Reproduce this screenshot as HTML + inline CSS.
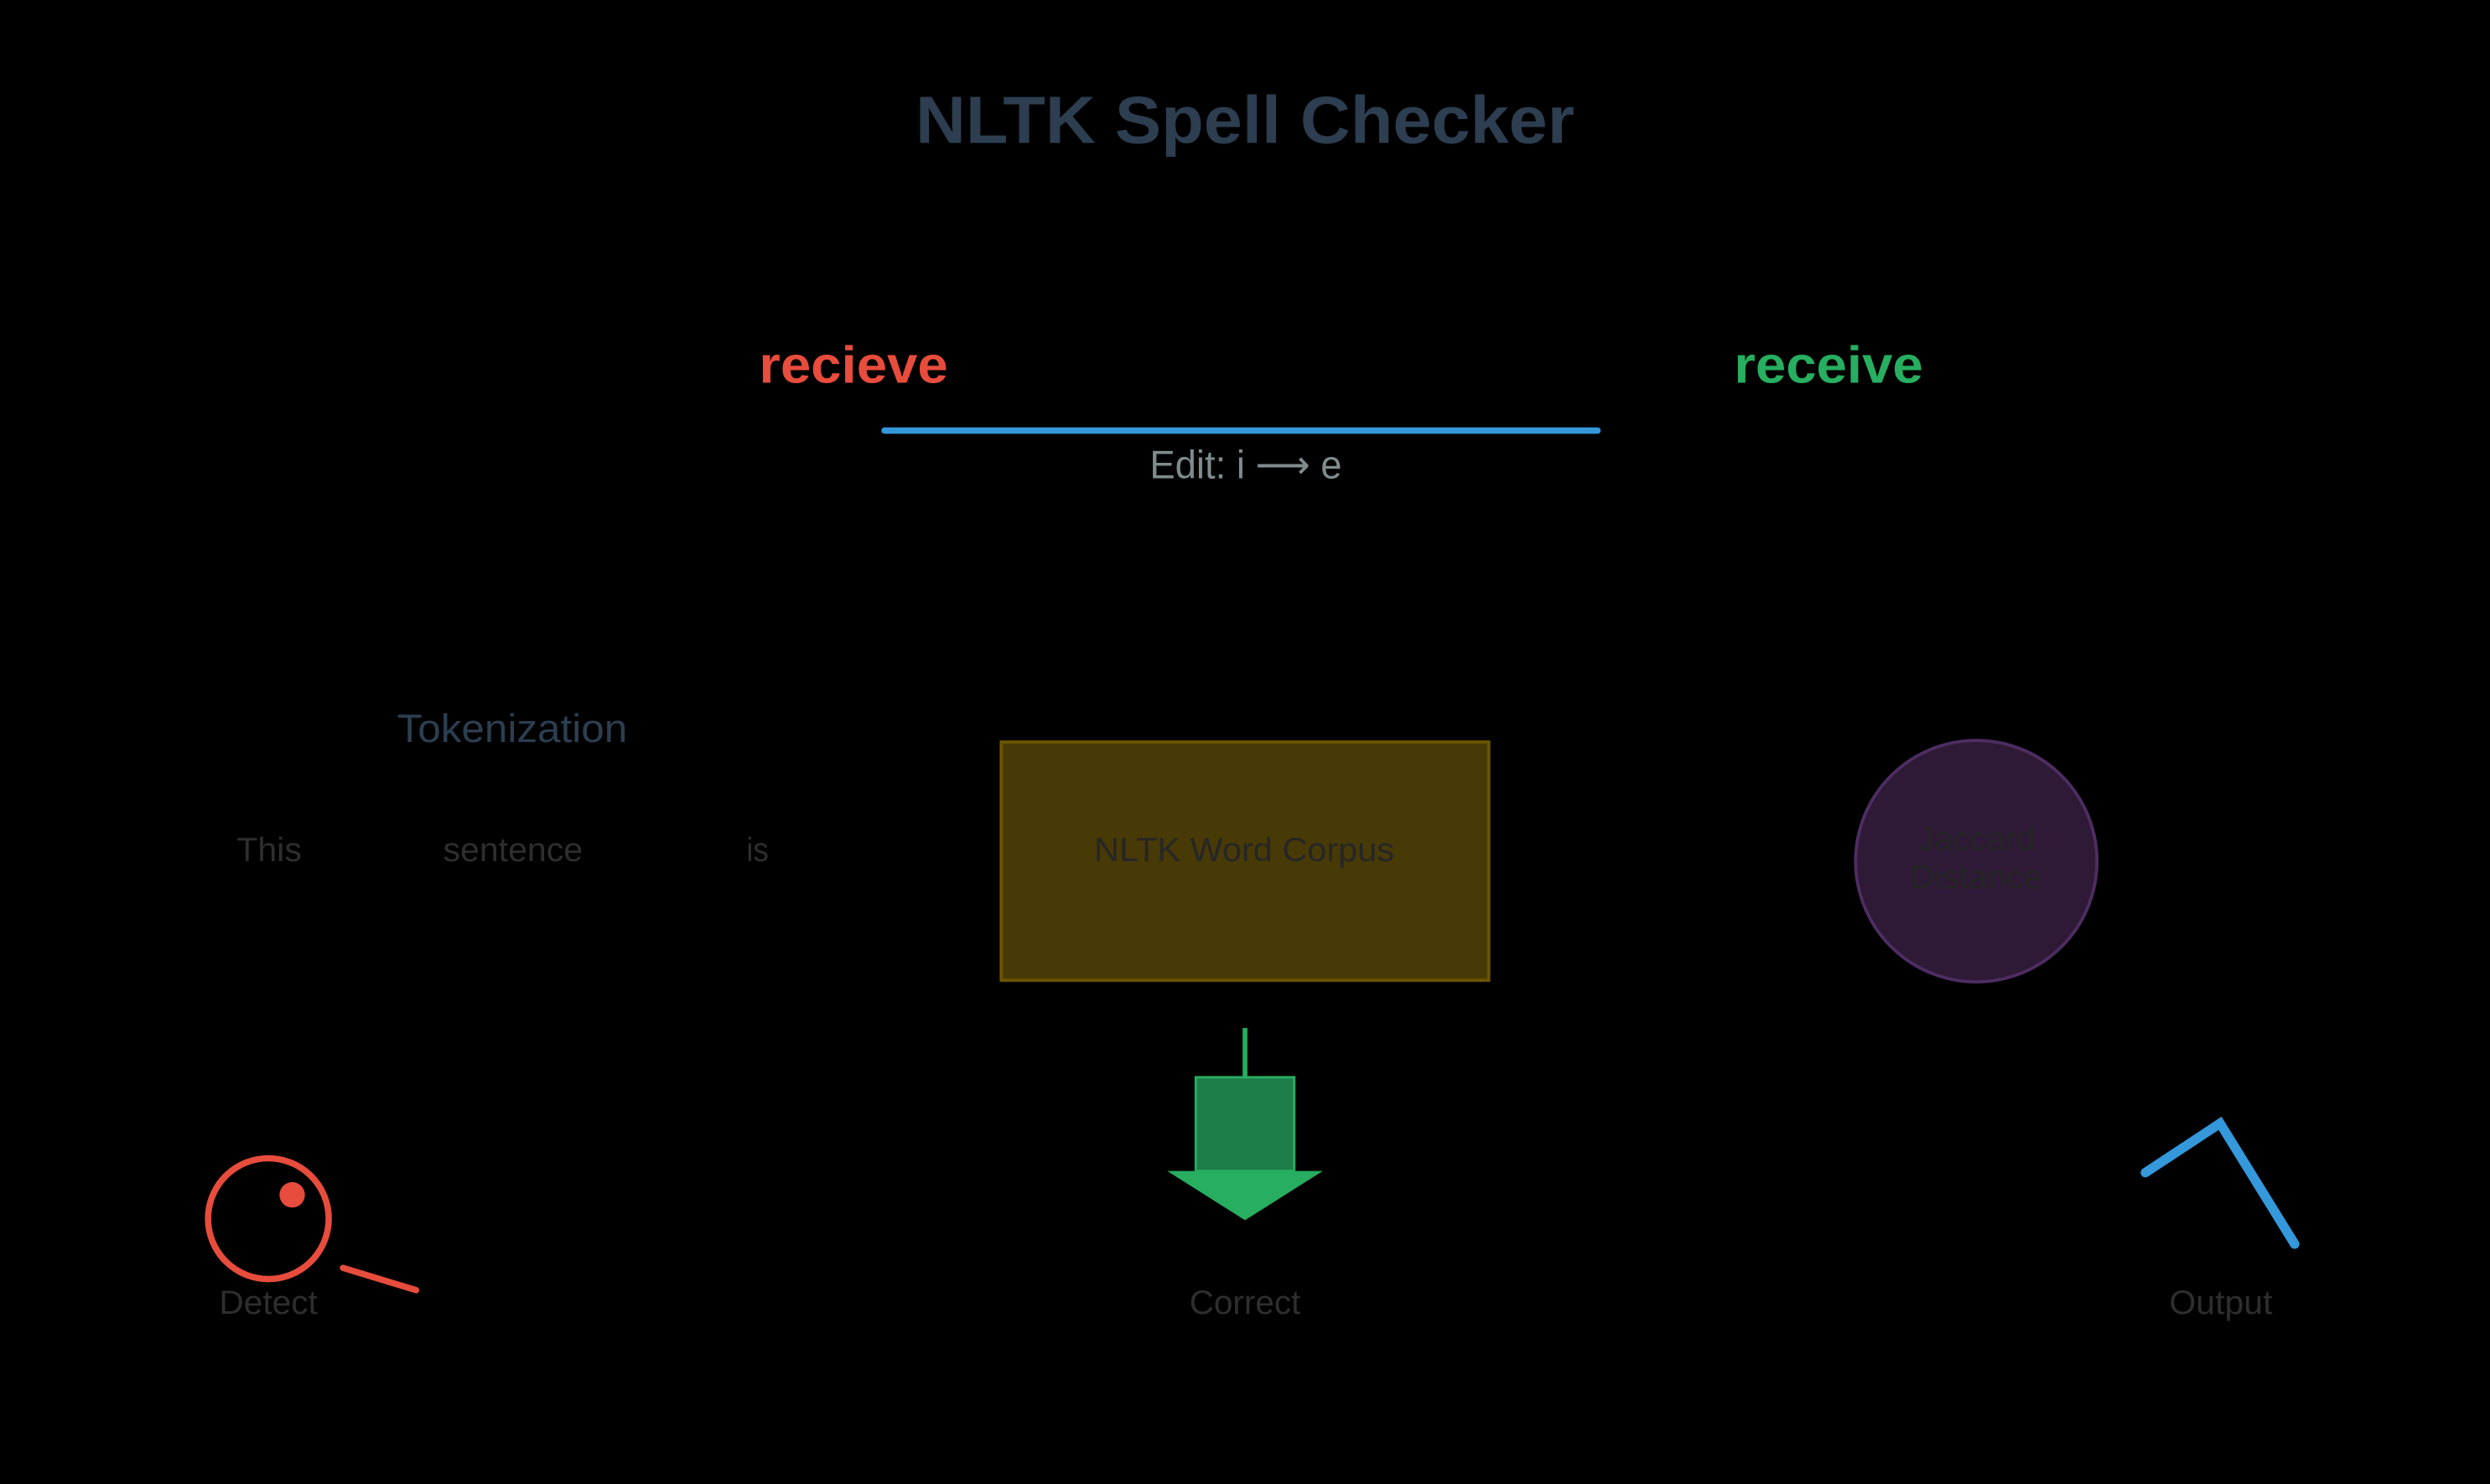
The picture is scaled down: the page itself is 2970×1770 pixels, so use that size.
<!DOCTYPE html>
<html><head><meta charset="utf-8"><style>
html,body{margin:0;padding:0;background:#000;width:2970px;height:1770px;overflow:hidden}
svg{display:block}
text{font-family:"Liberation Sans",sans-serif}
</style></head><body>
<svg width="2970" height="1770" viewBox="0 0 1568 934" preserveAspectRatio="none" xmlns="http://www.w3.org/2000/svg">
<rect x="0" y="0" width="1568" height="934" fill="#000"/>
<text x="784" y="90" text-anchor="middle" font-size="42" font-weight="bold" fill="#2c3e50" textLength="415" lengthAdjust="spacingAndGlyphs">NLTK Spell Checker</text>
<text x="537.5" y="241" text-anchor="middle" font-size="33" font-weight="bold" fill="#e74c3c" textLength="119" lengthAdjust="spacingAndGlyphs">recieve</text>
<text x="1151.5" y="241" text-anchor="middle" font-size="33" font-weight="bold" fill="#27ae60" textLength="119" lengthAdjust="spacingAndGlyphs">receive</text>
<line x1="557" y1="271" x2="1006" y2="271" stroke="#3498db" stroke-width="4" stroke-linecap="round"/>
<text x="784.5" y="301" text-anchor="middle" font-size="25" fill="#7f8c8d" textLength="121" lengthAdjust="spacingAndGlyphs">Edit: i ⟶ e</text>
<text x="322.5" y="467" text-anchor="middle" font-size="25" fill="#2c3e50" textLength="145" lengthAdjust="spacingAndGlyphs">Tokenization</text>
<text x="169.5" y="542" text-anchor="middle" font-size="21" fill="#2e2e2e" textLength="41" lengthAdjust="spacingAndGlyphs">This</text>
<text x="323" y="542" text-anchor="middle" font-size="21" fill="#2e2e2e" textLength="88" lengthAdjust="spacingAndGlyphs">sentence</text>
<text x="477" y="542" text-anchor="middle" font-size="21" fill="#2e2e2e" textLength="14" lengthAdjust="spacingAndGlyphs">is</text>
<rect x="630.5" y="467" width="307" height="150" fill="#483a06" stroke="#6b5500" stroke-width="2"/>
<text x="783.5" y="542" text-anchor="middle" font-size="21" fill="#262626" textLength="189" lengthAdjust="spacingAndGlyphs">NLTK Word Corpus</text>
<circle cx="1244.5" cy="542" r="76" fill="#2e1a36" stroke="#4e2d62" stroke-width="2"/>
<text x="1244.5" y="535" text-anchor="middle" font-size="21" fill="#242424" textLength="74" lengthAdjust="spacingAndGlyphs">Jaccard</text>
<text x="1244.5" y="559" text-anchor="middle" font-size="21" fill="#242424" textLength="83" lengthAdjust="spacingAndGlyphs">Distance</text>
<line x1="784" y1="647" x2="784" y2="678" stroke="#27ae60" stroke-width="3"/>
<rect x="753" y="678" width="62" height="59" fill="#1e7e4a" stroke="#27ae60" stroke-width="1.5"/>
<polygon points="735,737 833,737 784,768" fill="#27ae60"/>
<circle cx="169" cy="767" r="38" fill="none" stroke="#e74c3c" stroke-width="4"/>
<circle cx="184" cy="752" r="8" fill="#e74c3c"/>
<line x1="216" y1="798" x2="262" y2="812" stroke="#e74c3c" stroke-width="4" stroke-linecap="round"/>
<polyline points="1351,738 1398,707 1445,783" fill="none" stroke="#3498db" stroke-width="6" stroke-linecap="round" stroke-linejoin="miter"/>
<text x="169" y="827" text-anchor="middle" font-size="21" fill="#2e2e2e" textLength="62" lengthAdjust="spacingAndGlyphs">Detect</text>
<text x="784" y="827" text-anchor="middle" font-size="21" fill="#2e2e2e" textLength="70" lengthAdjust="spacingAndGlyphs">Correct</text>
<text x="1398.5" y="827" text-anchor="middle" font-size="21" fill="#2e2e2e" textLength="65" lengthAdjust="spacingAndGlyphs">Output</text>
</svg>
</body></html>
